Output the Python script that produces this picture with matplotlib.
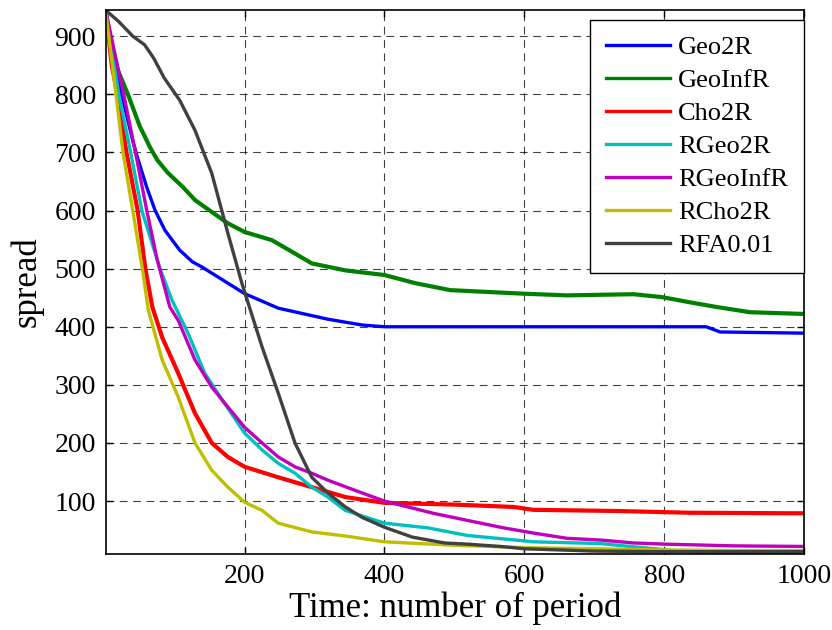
import matplotlib
matplotlib.use('Agg')
import matplotlib.pyplot as plt

# values (x = period, y = spread)
geo2r_x = [1, 12, 24, 40, 47, 60, 72, 86, 107, 125, 140, 176, 200, 248, 319, 368, 400, 860, 880, 1000]
geo2r_y = [945, 870, 800, 720, 690, 640, 600, 566, 532, 512, 502, 475, 457, 432, 413, 403, 400, 400, 391, 389]

geoinfr_x = [1, 14, 33, 50, 65, 75, 90, 112, 129, 150, 176, 200, 239, 272, 296, 344, 400, 444, 494,
             597, 661, 756, 797, 837, 875, 923, 1000]
geoinfr_y = [945, 855, 800, 745, 708, 687, 665, 640, 618, 600, 578, 563, 549, 526, 509, 497, 489, 475, 463,
             457, 454, 456, 451, 442, 434, 425, 422]

cho2r_x = [1, 10, 18, 31, 47, 58, 68, 82, 105, 129, 153, 176, 200, 248, 296, 344, 400, 500, 584,
           613, 733, 837, 1000]
cho2r_y = [945, 850, 800, 700, 600, 500, 434, 382, 320, 251, 200, 176, 159, 141, 124, 107, 97, 94, 90,
           85, 83, 80, 79]

rgeo2r_x = [1, 20, 37, 53, 79, 96, 119, 143, 168, 200, 225, 248, 272, 296, 319, 344, 400, 462, 518,
            613, 708, 804, 850, 900, 950, 1000]
rgeo2r_y = [945, 800, 700, 600, 500, 446, 389, 320, 274, 217, 188, 165, 148, 124, 107, 84, 62, 54, 41,
            30, 27, 16, 12, 9, 11, 11]

rgeoinfr_x = [1, 27, 46, 60, 75, 93, 105, 129, 153, 176, 200, 225, 248, 272, 296, 319, 368, 400, 440,
              470, 518, 566, 613, 661, 709, 756, 800, 900, 1000]
rgeoinfr_y = [945, 800, 687, 600, 515, 434, 411, 343, 296, 262, 227, 200, 176, 159, 148, 136, 114, 100, 88,
              79, 67, 55, 45, 36, 33, 28, 26, 23, 22]

rcho2r_x = [1, 16, 26, 40, 55, 62, 82, 105, 129, 153, 176, 200, 225, 248, 296, 344, 400, 450, 500,
            600, 700, 800, 900, 1000]
rcho2r_y = [945, 800, 700, 600, 490, 430, 343, 279, 200, 153, 124, 98, 84, 62, 47, 40, 30, 27, 24,
            20, 18, 16, 15, 15]

rfa_x = [1, 20, 40, 57, 70, 85, 107, 129, 153, 176, 196, 225, 248, 272, 296, 319, 344, 368, 400,
         440, 486, 518, 566, 600, 700, 800, 1000]
rfa_y = [945, 925, 900, 885, 862, 828, 790, 738, 664, 561, 475, 365, 286, 200, 141, 114, 90, 72, 55,
         38, 28, 26, 22, 18, 14, 13, 13]

series = [
    ('Geo2R', geo2r_x, geo2r_y, (0, 0, 1)),
    ('GeoInfR', geoinfr_x, geoinfr_y, (0, 0.5, 0)),
    ('Cho2R', cho2r_x, cho2r_y, (1, 0, 0)),
    ('RGeo2R', rgeo2r_x, rgeo2r_y, (0, 0.75, 0.75)),
    ('RGeoInfR', rgeoinfr_x, rgeoinfr_y, (0.75, 0, 0.75)),
    ('RCho2R', rcho2r_x, rcho2r_y, (0.75, 0.75, 0)),
    ('RFA0.01', rfa_x, rfa_y, (0.25, 0.25, 0.25)),
]

x_ticks = [200, 400, 600, 800, 1000]
y_ticks = [100, 200, 300, 400, 500, 600, 700, 800, 900]

plt.rcParams['font.family'] = ['Liberation Serif', 'DejaVu Serif']

fig = plt.figure(figsize=(8.32, 6.30), dpi=100)
ax = fig.add_axes([105.5 / 832, 1 - 554 / 630, 698.5 / 832, 544 / 630])

for name, xs, ys, col in series:
    # the noisy runs in the original look a bit heavier than a clean line
    lw = 3.0 if name in ('GeoInfR', 'Cho2R') else 2.4
    ax.plot(xs, ys, color=col, linewidth=lw, label=name)

ax.set_xlim(1, 1000)
ax.set_ylim(9, 945)
ax.set_xticks(x_ticks)
ax.set_yticks(y_ticks)
ax.tick_params(direction='in', length=5, width=1, labelsize=20, pad=7,
               top=True, right=True)
for s in ax.spines.values():
    s.set_linewidth(1.2)

ax.grid(True, color='black', linestyle=(0, (7, 5)), linewidth=0.8, alpha=0.75)

ax.set_xlabel('Time: number of period', fontsize=25, labelpad=2)
ax.set_ylabel('spread', fontsize=25, labelpad=8)

leg = ax.legend(loc='upper right', bbox_to_anchor=(1, 1 - 10 / 544), borderaxespad=0,
                fontsize=19, fancybox=False, framealpha=1, edgecolor='black',
                handlelength=2.45, handletextpad=0.3, labelspacing=0.36, borderpad=0.6)
leg.get_frame().set_linewidth(1.0)
for h in leg.get_lines():
    h.set_linewidth(2.4)

fig.savefig('out.png', dpi=100)
plt.close(fig)
